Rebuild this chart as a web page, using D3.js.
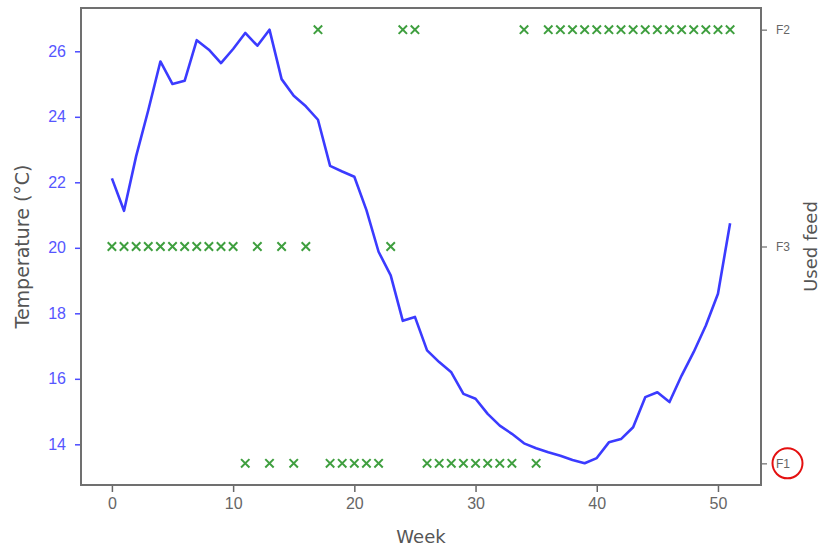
<!DOCTYPE html>
<html>
<head>
<meta charset="utf-8">
<script src="https://cdn.jsdelivr.net/npm/d3@7"></script>
<style>
  body { margin: 0; background: #fff; }
  svg { display: block; font-family: "DejaVu Sans", sans-serif; }
</style>
</head>
<body>
<div class="chart"></div>
<script>
// Weekly temperature and the feed used that week
var weeks = d3.range(0, 52);
var temperature = [
  22.12, 21.13, 22.8, 24.2, 25.69, 25.0, 25.1, 26.34, 26.05, 25.64,
  26.07, 26.56, 26.17, 26.66, 25.15, 24.64, 24.32, 23.91, 22.5, 22.33,
  22.17, 21.15, 19.88, 19.16, 17.77, 17.89, 16.87, 16.51, 16.2, 15.54,
  15.39, 14.93, 14.57, 14.32, 14.03, 13.88, 13.76, 13.65, 13.52, 13.42,
  13.58, 14.06, 14.16, 14.52, 15.44, 15.59, 15.29, 16.1, 16.82, 17.63,
  18.6, 20.75
];
var usedFeed = [
  "F3", "F3", "F3", "F3", "F3", "F3", "F3", "F3", "F3", "F3",
  "F3", "F1", "F3", "F1", "F3", "F1", "F3", "F2", "F1", "F1",
  "F1", "F1", "F1", "F3", "F2", "F2", "F1", "F1", "F1", "F1",
  "F1", "F1", "F1", "F1", "F2", "F1", "F2", "F2", "F2", "F2",
  "F2", "F2", "F2", "F2", "F2", "F2", "F2", "F2", "F2", "F2",
  "F2", "F2"
];
// Order of the feeds on the right axis, bottom to top
var feedOrder = ["F1", "F3", "F2"];
var weekTicks = [0, 10, 20, 30, 40, 50];
var tempTicks = [14, 16, 18, 20, 22, 24, 26];

function init() {
  var w = 823;
  var h = 546;
  var left = 81, right = 761, top = 8, bottom = 485;

  var svg = d3.select(".chart")
    .append("svg")
    .attr("width", w)
    .attr("height", h);

  // Scales, with the 5% margins around the data
  var xScale = d3.scaleLinear()
    .domain([-2.55, 53.55])
    .range([left, right]);
  var tExt = d3.extent(temperature);
  var tPad = (tExt[1] - tExt[0]) * 0.05;
  var yScale = d3.scaleLinear()
    .domain([tExt[0] - tPad, tExt[1] + tPad])
    .range([bottom, top]);
  var feedScale = d3.scaleLinear()
    .domain([-0.1, feedOrder.length - 0.9])
    .range([bottom, top]);
  function feedY(f) { return feedScale(feedOrder.indexOf(f)); }

  // Left axis (temperature)
  var yAxis = d3.axisLeft(yScale)
    .tickValues(tempTicks)
    .tickSize(6)
    .tickPadding(9);
  var gy = svg.append("g")
    .attr("transform", "translate(" + left + ",0)")
    .call(yAxis);
  gy.select(".domain").remove();
  gy.selectAll("line").attr("stroke", "#4a4aff").attr("stroke-width", 1.5);
  gy.selectAll("text")
    .attr("fill", "#5656ff")
    .style("font-size", "16px");

  // Bottom axis (week)
  var xAxis = d3.axisBottom(xScale)
    .tickValues(weekTicks)
    .tickSize(7)
    .tickPadding(6);
  var gx = svg.append("g")
    .attr("transform", "translate(0," + bottom + ")")
    .call(xAxis);
  gx.select(".domain").remove();
  gx.selectAll("line").attr("stroke", "#666").attr("stroke-width", 1.5);
  gx.selectAll("text")
    .attr("fill", "#666")
    .style("font-size", "16px");

  // Right axis (used feed)
  var feedAxis = d3.axisRight(feedScale)
    .tickValues(d3.range(feedOrder.length))
    .tickFormat(function (i) { return feedOrder[i]; })
    .tickSize(6)
    .tickPadding(9);
  var gf = svg.append("g")
    .attr("transform", "translate(" + right + ",0)")
    .call(feedAxis);
  gf.select(".domain").remove();
  gf.selectAll("line").attr("stroke", "#888").attr("stroke-width", 1.5);
  gf.selectAll("text")
    .attr("fill", "#666")
    .style("font-size", "12px");

  // Frame
  svg.append("rect")
    .attr("x", left)
    .attr("y", top)
    .attr("width", right - left)
    .attr("height", bottom - top)
    .attr("fill", "none")
    .attr("stroke", "#707070")
    .attr("stroke-width", 2);

  // Temperature line
  svg.append("path")
    .datum(weeks)
    .attr("fill", "none")
    .attr("stroke", "#3b3bff")
    .attr("stroke-width", 2.6)
    .attr("stroke-linejoin", "round")
    .attr("d", d3.line()
      .x(function (d) { return xScale(d); })
      .y(function (d) { return yScale(temperature[d]); }));

  // Feed markers ('x')
  var s = 4.2;
  svg.selectAll(".feed")
    .data(weeks)
    .enter()
    .append("path")
    .attr("class", "feed")
    .attr("fill", "none")
    .attr("stroke", "#3f9f3f")
    .attr("stroke-width", 2)
    .attr("d", function (d) {
      var cx = xScale(d), cy = feedY(usedFeed[d]);
      return "M" + (cx - s) + "," + (cy - s) + "L" + (cx + s) + "," + (cy + s) +
        "M" + (cx - s) + "," + (cy + s) + "L" + (cx + s) + "," + (cy - s);
    });

  // Axis labels
  svg.append("text")
    .attr("x", (left + right) / 2)
    .attr("y", 543)
    .attr("text-anchor", "middle")
    .attr("fill", "#555")
    .style("font-size", "18px")
    .text("Week");
  svg.append("text")
    .attr("transform", "rotate(-90)")
    .attr("x", -(top + bottom) / 2)
    .attr("y", 29)
    .attr("text-anchor", "middle")
    .attr("fill", "#555")
    .style("font-size", "19px")
    .text("Temperature (°C)");
  svg.append("text")
    .attr("transform", "rotate(-90)")
    .attr("x", -(top + bottom) / 2)
    .attr("y", 817)
    .attr("text-anchor", "middle")
    .attr("fill", "#555")
    .style("font-size", "18px")
    .text("Used feed");

  // Red circle round the F1 label
  svg.append("circle")
    .attr("cx", 787.5)
    .attr("cy", feedY("F1"))
    .attr("r", 15)
    .attr("fill", "none")
    .attr("stroke", "#e41010")
    .attr("stroke-width", 2);
}
window.onload = init;
</script>
</body>
</html>
